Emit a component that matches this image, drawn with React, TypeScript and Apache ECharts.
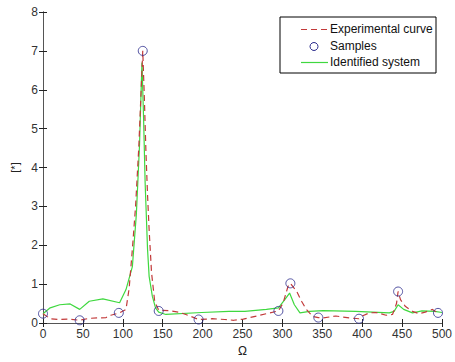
import React, { useEffect, useRef } from "react";
import * as echarts from "echarts";

const xTicks = [0, 50, 100, 150, 200, 250, 300, 350, 400, 450, 500];
const yTicks = [0, 1, 2, 3, 4, 5, 6, 7, 8];
const legendNames = ["Experimental curve", "Samples", "Identified system"];

const sampleX = [0, 46, 95, 125, 145, 195, 295, 310, 345, 396, 445, 495];
const sampleY = [0.24, 0.07, 0.26, 7.0, 0.31, 0.09, 0.31, 1.02, 0.14, 0.11, 0.81, 0.26];

const expX = [0, 9, 21, 33, 46, 58, 79, 85, 96, 104, 108, 112, 116, 120, 122, 125, 127, 129, 131, 133, 136, 140, 145, 158, 170, 179, 195, 212, 228, 239, 251, 268, 284, 295, 301, 307, 310, 318, 324, 330, 338, 345, 351, 367, 384, 396, 400, 409, 417, 430, 438, 443, 445, 448, 454, 463, 471, 479, 488, 495];
const expY = [0.24, 0.11, 0.09, 0.1, 0.07, 0.12, 0.14, 0.2, 0.26, 0.35, 0.9, 1.9, 3.0, 4.5, 5.5, 7.0, 5.8, 4.4, 3.3, 2.4, 1.3, 0.55, 0.33, 0.32, 0.28, 0.22, 0.09, 0.11, 0.09, 0.07, 0.1, 0.18, 0.26, 0.31, 0.52, 0.94, 1.02, 0.81, 0.56, 0.35, 0.17, 0.14, 0.13, 0.18, 0.13, 0.11, 0.18, 0.26, 0.27, 0.2, 0.22, 0.5, 0.81, 0.6, 0.43, 0.3, 0.24, 0.28, 0.35, 0.26];

const idX = [0, 9, 21, 34, 46, 58, 75, 96, 104, 112, 117, 121, 124, 126, 128, 131, 133, 137, 141, 145, 154, 199, 233, 253, 280, 295, 303, 309, 315, 322, 334, 351, 392, 434, 440, 445, 452, 463, 475, 491, 500];
const idY = [0.24, 0.39, 0.47, 0.49, 0.35, 0.56, 0.62, 0.52, 0.86, 1.45, 2.8, 4.6, 6.7, 5.3, 3.6, 1.9, 1.2, 0.69, 0.39, 0.28, 0.22, 0.27, 0.3, 0.3, 0.35, 0.39, 0.6, 0.77, 0.47, 0.26, 0.3, 0.32, 0.3, 0.26, 0.3, 0.47, 0.35, 0.26, 0.31, 0.3, 0.27];

const zip = (xs: number[], ys: number[]) => xs.map((x, i) => [x, ys[i]]);

const RED = "#c23a3a";
const GREEN = "#3fd83f";
const BLUE = "#2b2b8c";

export default function App() {
  const ref = useRef<HTMLDivElement>(null);
  useEffect(() => {
    if (!ref.current) return;
    const chart = echarts.init(ref.current, null, { renderer: "svg" });
    const axisColor = "#555";
    const font = "Liberation Sans";
    const labelStyle = { color: "#333", fontSize: 12, fontFamily: font };
    const textStyle = (y: number, t: string) => ({
      type: "text",
      left: 330,
      top: y - 7,
      style: { text: t, fill: "#111", fontSize: 12, fontFamily: font },
    });
    chart.setOption({
      animation: false,
      backgroundColor: "#fff",
      grid: { left: 43, right: 10, top: 12, bottom: 35, containLabel: false },
      graphic: [
        { type: "rect", shape: { x: 280, y: 17, width: 156, height: 56 }, style: { fill: "#fff", stroke: "#000", lineWidth: 1 }, z: 100 },
        { type: "line", shape: { x1: 301, y1: 29.5, x2: 328, y2: 29.5 }, style: { stroke: RED, lineWidth: 1.2, lineDash: [6, 4] }, z: 101 },
        { type: "circle", shape: { cx: 314, cy: 46.5, r: 4 }, style: { fill: "#fff", stroke: BLUE, lineWidth: 1 }, z: 101 },
        { type: "line", shape: { x1: 301, y1: 62.5, x2: 328, y2: 62.5 }, style: { stroke: GREEN, lineWidth: 1.2 }, z: 101 },
        { ...textStyle(29.5, legendNames[0]), z: 101 },
        { ...textStyle(46.5, legendNames[1]), z: 101 },
        { ...textStyle(62.5, legendNames[2]), z: 101 },
      ],
      xAxis: [
        {
          type: "value",
          min: 0,
          max: 500,
          interval: 50,
          name: "Ω",
          nameLocation: "middle",
          nameGap: 22,
          nameTextStyle: { color: "#222", fontSize: 12, fontFamily: font },
          axisLine: { show: true, lineStyle: { color: axisColor } },
          axisTick: { show: true, inside: true, length: 4, lineStyle: { color: "#222" } },
          axisLabel: { ...labelStyle, margin: 5, formatter: (v: number) => (xTicks.includes(v) ? String(v) : "") },
          splitLine: { show: false },
        },
        {
          type: "value",
          position: "top",
          min: 0,
          max: 500,
          interval: 50,
          axisLine: { show: true, lineStyle: { color: axisColor } },
          axisTick: { show: true, inside: true, length: 4, lineStyle: { color: "#222" } },
          axisLabel: { show: false },
          splitLine: { show: false },
        },
      ],
      yAxis: [
        {
          type: "value",
          min: 0,
          max: 8,
          interval: 1,
          name: "[*]",
          nameLocation: "middle",
          nameGap: 18,
          nameTextStyle: { color: "#222", fontSize: 11, fontFamily: font },
          axisLine: { show: true, lineStyle: { color: axisColor } },
          axisTick: { show: true, inside: true, length: 4, lineStyle: { color: "#222" } },
          axisLabel: { ...labelStyle, margin: 5, formatter: (v: number) => (yTicks.includes(v) ? String(v) : "") },
          splitLine: { show: false },
        },
        {
          type: "value",
          position: "right",
          min: 0,
          max: 8,
          interval: 1,
          axisLine: { show: true, lineStyle: { color: axisColor } },
          axisTick: { show: true, inside: true, length: 4, lineStyle: { color: "#222" } },
          axisLabel: { show: false },
          splitLine: { show: false },
        },
      ],
      series: [
        {
          name: legendNames[0],
          type: "line",
          data: zip(expX, expY),
          symbol: "none",
          lineStyle: { color: RED, width: 1.2, type: [6, 4] },
          itemStyle: { color: RED },
          z: 3,
        },
        {
          name: legendNames[1],
          type: "scatter",
          data: zip(sampleX, sampleY),
          symbol: "circle",
          symbolSize: 9,
          itemStyle: { color: "rgba(255,255,255,0)", borderColor: BLUE, borderWidth: 1 },
          z: 4,
        },
        {
          name: legendNames[2],
          type: "line",
          data: zip(idX, idY),
          symbol: "none",
          lineStyle: { color: GREEN, width: 1.2 },
          itemStyle: { color: GREEN },
          z: 2,
        },
      ],
    });
    return () => chart.dispose();
  }, []);
  return <div ref={ref} style={{ width: 455, height: 362, position: "absolute", left: 0, top: 0 }} />;
}
